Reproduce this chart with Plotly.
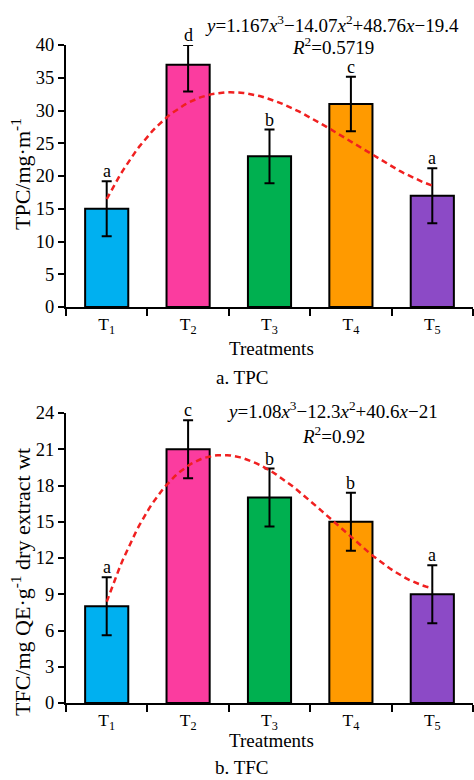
import numpy as np
import plotly.graph_objects as go

# ---------------- data ----------------
treatments = ["T<sub>1</sub>", "T<sub>2</sub>", "T<sub>3</sub>", "T<sub>4</sub>", "T<sub>5</sub>"]
positions = [1, 2, 3, 4, 5]
colors = ["#00B0F0", "#FB3C9F", "#00B050", "#FF9A00", "#8C4AC6"]

tpc_values = [15, 37, 23, 31, 17]
tpc_err_plus = [4.2, 3.0, 4.1, 4.15, 4.2]
tpc_err_minus = [4.2, 4.1, 4.1, 4.15, 4.2]
tpc_letters = ["a", "d", "b", "c", "a"]
tpc_coefs = [1.167, -14.07, 48.76, -19.4]   # shown fit equation
tpc_equation = "<i>y</i>=1.167<i>x</i><sup>3</sup>−14.07<i>x</i><sup>2</sup>+48.76<i>x</i>−19.4"
tpc_r2 = "<i>R</i><sup>2</sup>=0.5719"

tfc_values = [8, 21, 17, 15, 9]
tfc_err_plus = [2.4, 2.4, 2.4, 2.4, 2.4]
tfc_err_minus = [2.4, 2.4, 2.4, 2.4, 2.4]
tfc_letters = ["a", "c", "b", "b", "a"]
tfc_coefs = [1.08, -12.3, 40.6, -21]
tfc_equation = "<i>y</i>=1.08<i>x</i><sup>3</sup>−12.3<i>x</i><sup>2</sup>+40.6<i>x</i>−21"
tfc_r2 = "<i>R</i><sup>2</sup>=0.92"

tpc_ticks = [0, 5, 10, 15, 20, 25, 30, 35, 40]
tfc_ticks = [0, 3, 6, 9, 12, 15, 18, 21, 24]

FONT = "Liberation Serif"
fig = go.Figure()

def add_panel(values, ep, em, coefs, xa, ya):
    fig.add_trace(go.Bar(
        x=positions, y=values, width=0.53, xaxis=xa, yaxis=ya,
        marker=dict(color=colors, line=dict(color="black", width=2)),
        error_y=dict(type="data", symmetric=False, array=ep, arrayminus=em,
                     color="black", thickness=2, width=5),
        showlegend=False))
    xs = np.linspace(positions[0], positions[-1], 101)
    fig.add_trace(go.Scatter(
        x=xs, y=np.polyval(coefs, xs), mode="lines", xaxis=xa, yaxis=ya,
        line=dict(color="#F02020", width=2.5, dash="6px,4px"),
        showlegend=False))

add_panel(tpc_values, tpc_err_plus, tpc_err_minus, tpc_coefs, "x", "y")
add_panel(tfc_values, tfc_err_plus, tfc_err_minus, tfc_coefs, "x2", "y2")

W, H = 474, 780
L, R, T, B = 66, 1, 45, 77
pw, ph = W - L - R, H - T - B

def px(x):
    return (x - L) / pw

def py(y):
    return (H - B - y) / ph

top_dom = [py(307), 1]
bot_dom = [0, py(413)]

xcommon = dict(range=[0.5, 5.5], tickvals=positions, ticktext=treatments,
               ticks="", showline=True, linecolor="black", linewidth=2,
               showgrid=False, zeroline=False,
               tickfont=dict(family=FONT, size=17.5, color="black"),
               minor=dict(tickmode="linear", tick0=0.5, dtick=1, ticks="outside",
                          ticklen=7, tickwidth=2, tickcolor="black", showgrid=False))
ycommon = dict(ticks="outside", ticklen=6, tickwidth=2, tickcolor="black",
               showline=True, linecolor="black", linewidth=2, showgrid=False,
               zeroline=False, tickfont=dict(family=FONT, size=18.5, color="black"))

fig.update_layout(
    width=W, height=H, margin=dict(l=L, r=R, t=T, b=B),
    paper_bgcolor="white", plot_bgcolor="white",
    xaxis=dict(domain=[0, 1], anchor="y", **xcommon),
    yaxis=dict(domain=top_dom, anchor="x", range=[0, 40], tickvals=tpc_ticks, **ycommon),
    xaxis2=dict(domain=[0, 1], anchor="y2", **xcommon),
    yaxis2=dict(domain=bot_dom, anchor="x2", range=[0, 24], tickvals=tfc_ticks, **ycommon),
)

ann = []
def txt(text, x, y, size=19, angle=0, xref="paper", yref="paper", yanchor="middle", **kw):
    ann.append(dict(text=text, x=x, y=y, xref=xref, yref=yref, showarrow=False,
                    xanchor="center", yanchor=yanchor, textangle=angle,
                    font=dict(family=FONT, size=size, color="black"), **kw))

for p, v, e, l in zip(positions, tpc_values, tpc_err_plus, tpc_letters):
    txt(l, p, v + e, size=18, xref="x", yref="y", yanchor="bottom", yshift=-2)
for p, v, e, l in zip(positions, tfc_values, tfc_err_plus, tfc_letters):
    txt(l, p, v + e, size=18, xref="x2", yref="y2", yanchor="bottom", yshift=-2)

txt(tpc_equation, px(332), py(24))
txt(tpc_r2, px(333), py(46))
txt(tfc_equation, px(332), py(410))
txt(tfc_r2, px(333), py(435))

txt("TPC/mg·m<sup>-1</sup>", px(21), py(174), size=22, angle=-90)
txt("TFC/mg QE·g<sup>-1</sup> dry extract wt", px(21), py(582), size=22, angle=-90)
txt("Treatments", px(271), py(348))
txt("Treatments", px(271), py(740))
txt("a. TPC", px(242), py(377))
txt("b. TFC", px(242), py(780), yanchor="bottom")

fig.update_layout(annotations=ann)
fig.write_html("out.html")
